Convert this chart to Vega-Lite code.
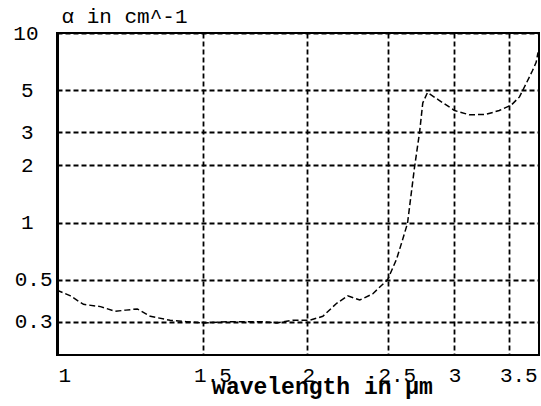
{
  "$schema": "https://vega.github.io/schema/vega-lite/v6.json",
  "width": 482,
  "height": 322,
  "autosize": "none",
  "padding": {"left": 57, "top": 33, "right": 2, "bottom": 51},
  "background": "white",
  "config": {
    "view": {"stroke": "black", "strokeWidth": 2},
    "axis": {
      "grid": true,
      "gridColor": "black",
      "gridDash": [5, 3],
      "gridWidth": 1.8,
      "gridOpacity": 1,
      "ticks": false,
      "labelFont": "Liberation Mono",
      "labelFontSize": 21,
      "labelColor": "black",
      "titleFont": "Liberation Mono",
      "titleColor": "black"
    }
  },
  "data": {
    "values": [
      {"wavelength": 1.0, "alpha": 0.44},
      {"wavelength": 1.038, "alpha": 0.41},
      {"wavelength": 1.076, "alpha": 0.37},
      {"wavelength": 1.128, "alpha": 0.36},
      {"wavelength": 1.175, "alpha": 0.34},
      {"wavelength": 1.21, "alpha": 0.345},
      {"wavelength": 1.249, "alpha": 0.35},
      {"wavelength": 1.295, "alpha": 0.32},
      {"wavelength": 1.368, "alpha": 0.305},
      {"wavelength": 1.43, "alpha": 0.3},
      {"wavelength": 1.498, "alpha": 0.295},
      {"wavelength": 1.615, "alpha": 0.3},
      {"wavelength": 1.754, "alpha": 0.3},
      {"wavelength": 1.838, "alpha": 0.295},
      {"wavelength": 1.922, "alpha": 0.305},
      {"wavelength": 2.014, "alpha": 0.305},
      {"wavelength": 2.088, "alpha": 0.32},
      {"wavelength": 2.17, "alpha": 0.375},
      {"wavelength": 2.237, "alpha": 0.41},
      {"wavelength": 2.313, "alpha": 0.39},
      {"wavelength": 2.397, "alpha": 0.42},
      {"wavelength": 2.499, "alpha": 0.5},
      {"wavelength": 2.561, "alpha": 0.64},
      {"wavelength": 2.604, "alpha": 0.81},
      {"wavelength": 2.64, "alpha": 0.99},
      {"wavelength": 2.692, "alpha": 1.96},
      {"wavelength": 2.73, "alpha": 3.0},
      {"wavelength": 2.754, "alpha": 4.27},
      {"wavelength": 2.79, "alpha": 4.85},
      {"wavelength": 2.885, "alpha": 4.4},
      {"wavelength": 3.007, "alpha": 3.9},
      {"wavelength": 3.134, "alpha": 3.7},
      {"wavelength": 3.28, "alpha": 3.72},
      {"wavelength": 3.404, "alpha": 3.9},
      {"wavelength": 3.52, "alpha": 4.17},
      {"wavelength": 3.6, "alpha": 4.6},
      {"wavelength": 3.67, "alpha": 5.45},
      {"wavelength": 3.73, "alpha": 6.3},
      {"wavelength": 3.77, "alpha": 7.0},
      {"wavelength": 3.79, "alpha": 7.9}
    ]
  },
  "mark": {"type": "line", "color": "black", "strokeWidth": 1.5, "strokeDash": [6, 3], "clip": true},
  "encoding": {
    "x": {
      "field": "wavelength",
      "type": "quantitative",
      "scale": {"type": "log", "domain": [1, 3.8], "nice": false},
      "axis": {
        "values": [1, 1.5, 2, 2.5, 3, 3.5],
        "labelExpr": "datum.value + ''",
        "labelPadding": 9,
        "labelBaseline": "top",
        "labelOffset": {"expr": "datum.value % 1 != 0 ? 9 : 1"},
        "domain": false,
        "title": "wavelength in µm",
        "titleFontSize": 23,
        "titleFontWeight": "bold",
        "titleX": 265,
        "titleY": 38,
        "titleAlign": "center",
        "titleBaseline": "alphabetic"
      }
    },
    "y": {
      "field": "alpha",
      "type": "quantitative",
      "scale": {"type": "log", "domain": [0.2, 10], "nice": false},
      "axis": {
        "values": [0.3, 0.5, 1, 2, 3, 5, 10],
        "labelExpr": "datum.value + ''",
        "labelPadding": {"expr": "datum.value == 10 ? 19 : datum.value < 1 ? 5 : 24"},
        "domain": true,
        "domainColor": "black",
        "domainWidth": 3,
        "title": "α in cm^-1",
        "titleAngle": 0,
        "titleAlign": "left",
        "titleBaseline": "middle",
        "titleFontSize": 21,
        "titleFontWeight": "normal",
        "titleX": 4,
        "titleY": -17
      }
    }
  }
}
